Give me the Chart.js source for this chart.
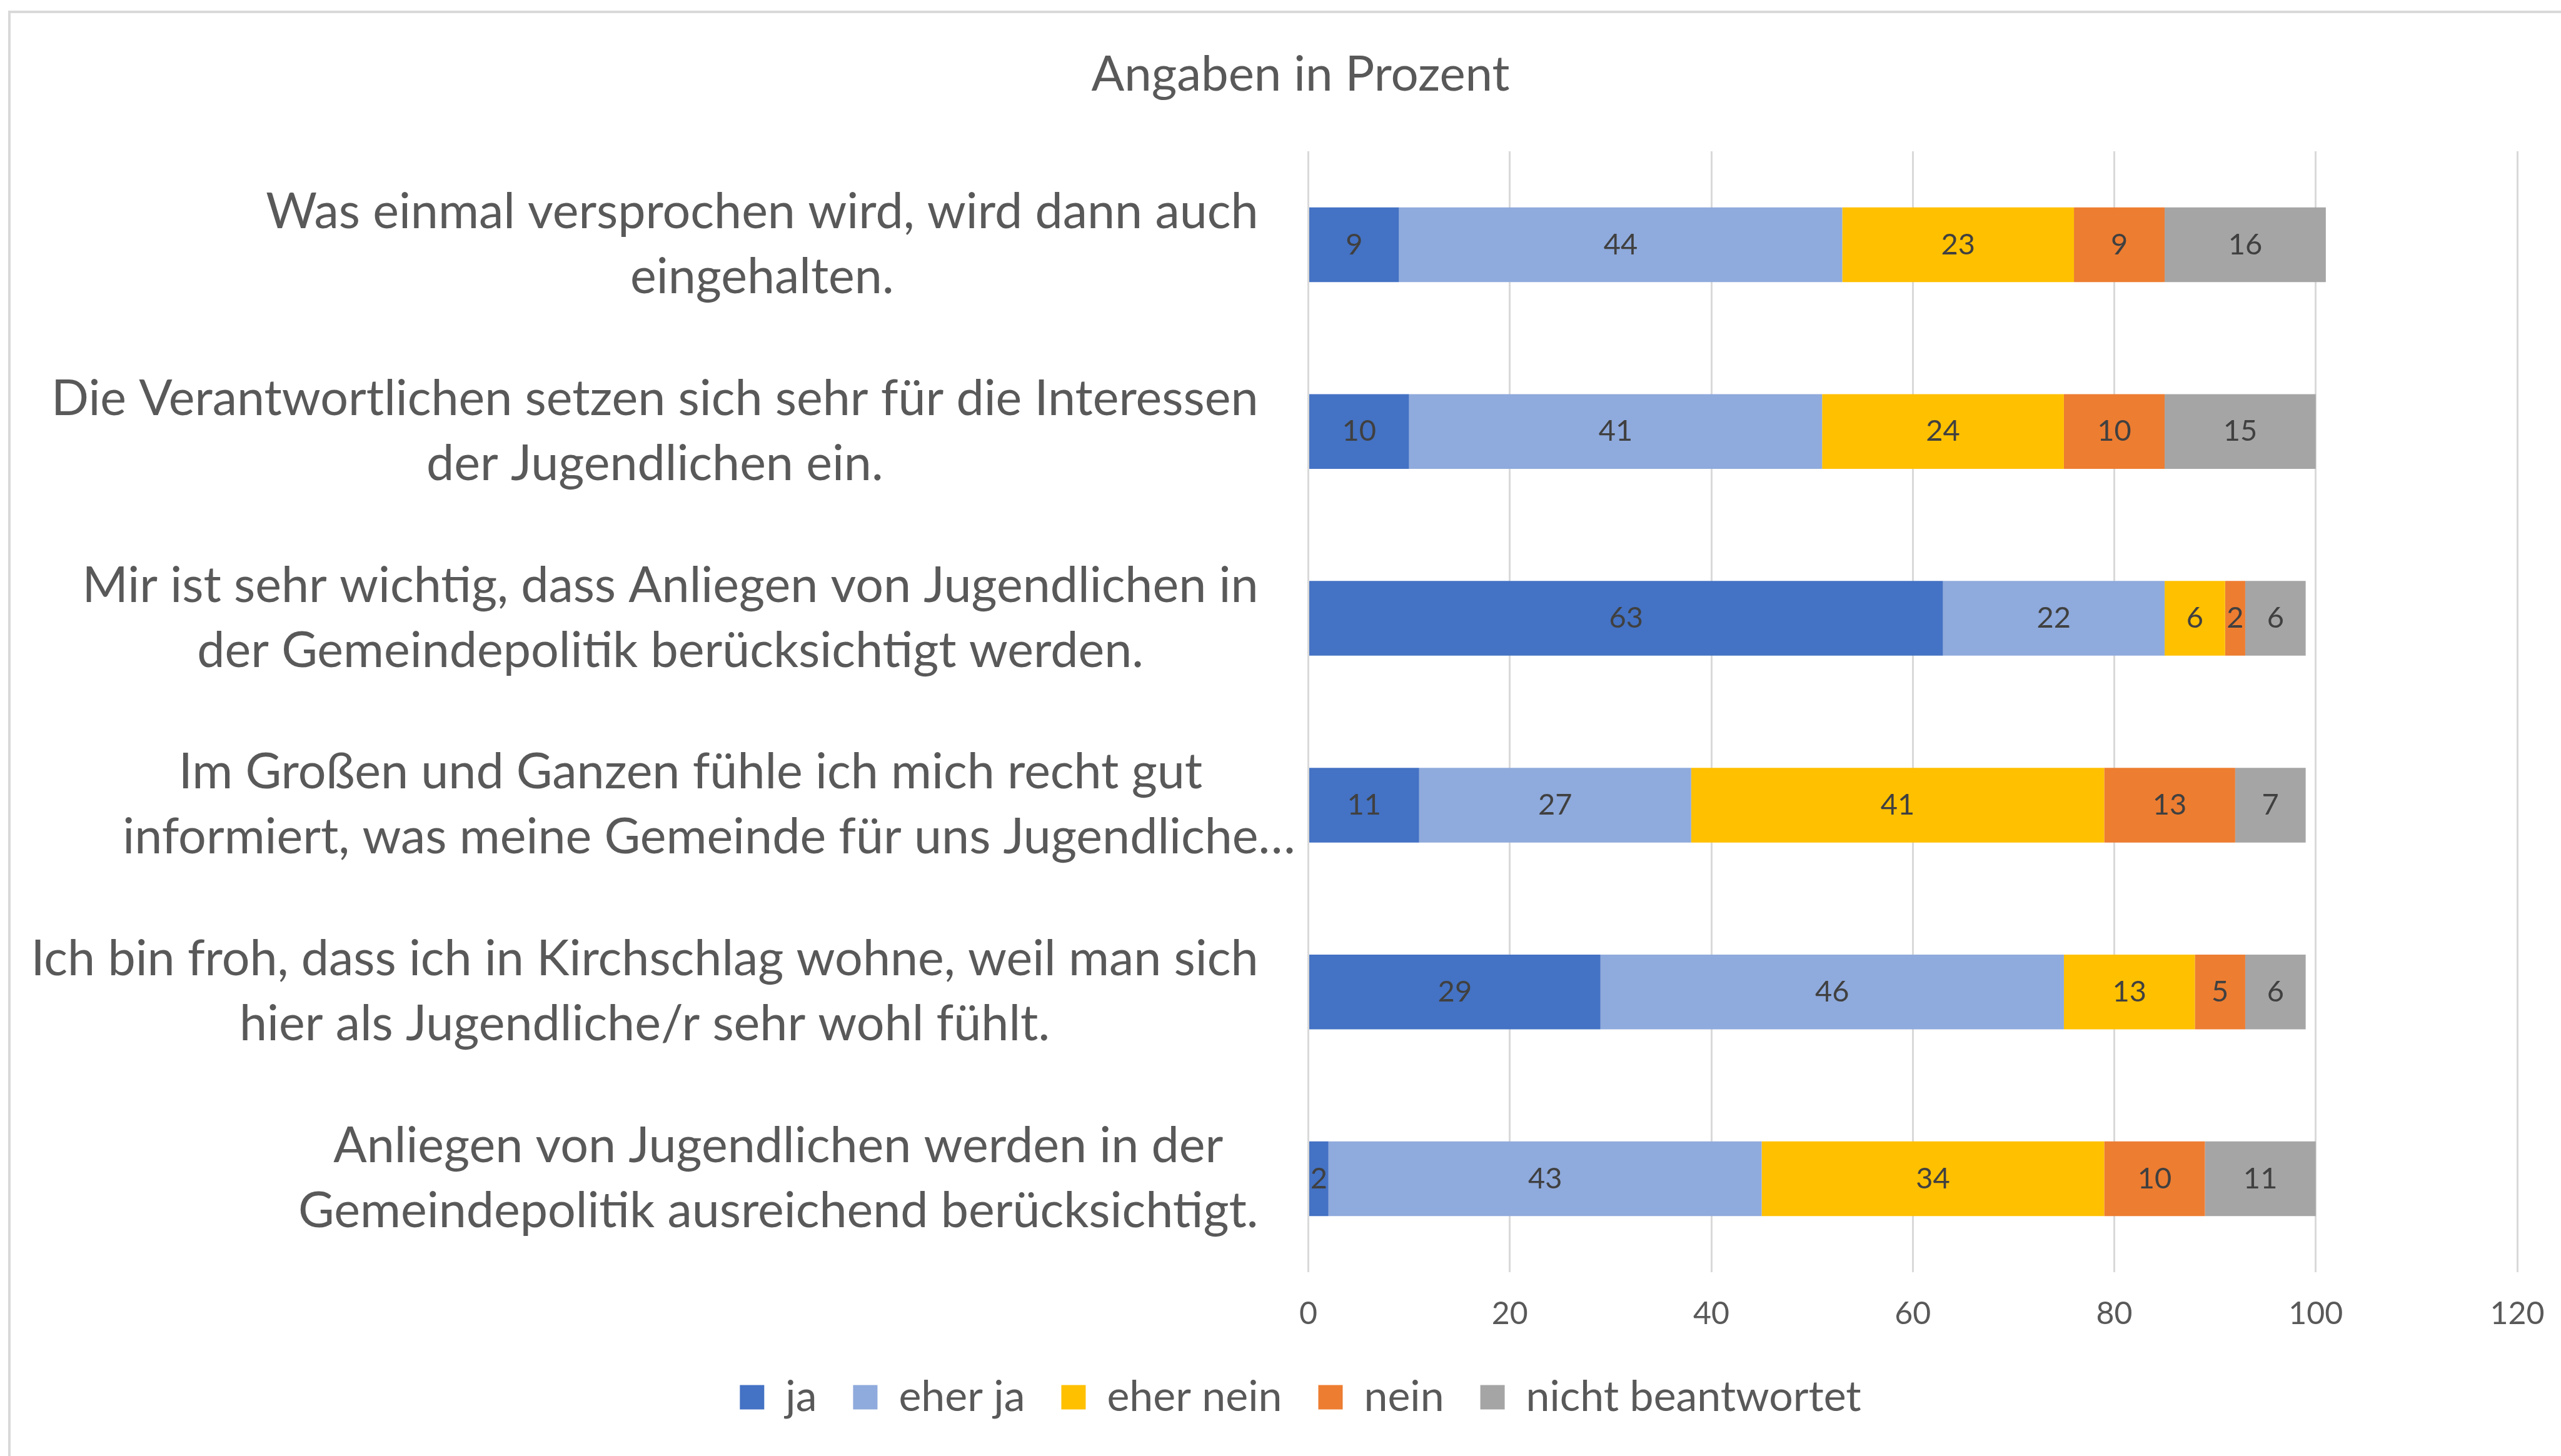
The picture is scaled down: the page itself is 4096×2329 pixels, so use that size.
<!DOCTYPE html>
<html><head><meta charset="utf-8">
<script src="https://cdn.jsdelivr.net/npm/chart.js@4.4.1/dist/chart.umd.min.js"></script>
<style>
html,body{margin:0;padding:0;background:#fff;overflow:hidden}
#wrap{position:relative;width:4096px;height:2329px}
canvas{display:block}
</style>
</head><body><div id="wrap"><canvas id="c" width="4096" height="2329"></canvas></div>
<script>
// ---- data ----
const categories = [
  ["Was einmal versprochen wird, wird dann auch", "eingehalten."],
  ["Die Verantwortlichen setzen sich sehr für die Interessen", "der Jugendlichen ein."],
  ["Mir ist sehr wichtig, dass Anliegen von Jugendlichen in", "der Gemeindepolitik berücksichtigt werden."],
  ["Im Großen und Ganzen fühle ich mich recht gut", "informiert, was meine Gemeinde für uns Jugendliche…"],
  ["Ich bin froh, dass ich in Kirchschlag wohne, weil man sich", "hier als Jugendliche/r sehr wohl fühlt."],
  ["Anliegen von Jugendlichen werden in der", "Gemeindepolitik ausreichend berücksichtigt."]
];
const seriesNames = ["ja", "eher ja", "eher nein", "nein", "nicht beantwortet"];
const ja = [9, 10, 63, 11, 29, 2];
const eherJa = [44, 41, 22, 27, 46, 43];
const eherNein = [23, 24, 6, 41, 13, 34];
const nein = [9, 10, 2, 13, 5, 10];
const nichtBeantwortet = [16, 15, 6, 7, 6, 11];
const xTickValues = [0, 20, 40, 60, 80, 100, 120];
const titleText = "Angaben in Prozent";

// ---- styles ----
const FONT = 'Lato';
const seriesColors = ['#4472C4', '#8FAADC', '#FFC000', '#ED7D31', '#A5A5A5'];
const TEXT = '#595959';
const GRID = '#d9d9d9';
const CAT_SIZE = 79, CAT_LINE = 104, CAT_GAP = 80;
const DATA_SIZE = 47;

const seriesValues = [ja, eherJa, eherNein, nein, nichtBeantwortet];

const frame = {
  id: 'frame',
  beforeDraw(chart) {
    const ctx = chart.ctx;
    ctx.save();
    ctx.fillStyle = '#ffffff';
    ctx.fillRect(0, 0, chart.width, chart.height);
    ctx.fillStyle = GRID;
    ctx.fillRect(13, 17, chart.width - 13, 4);
    ctx.fillRect(13, 17, 4, chart.height - 17);
    ctx.restore();
  }
};

const catLabels = {
  id: 'catLabels',
  afterDraw(chart) {
    const ctx = chart.ctx, ys = chart.scales.y;
    ctx.save();
    ctx.font = CAT_SIZE + 'px ' + FONT;
    ctx.fillStyle = TEXT;
    ctx.textBaseline = 'middle';
    ctx.textAlign = 'left';
    const right = chart.chartArea.left - CAT_GAP;
    categories.forEach((lines, i) => {
      const cy = ys.getPixelForValue(i);
      const core = lines.map(l => ctx.measureText(l.replace(/…$/, '')).width);
      const maxW = Math.max(...core);
      const cx = right - maxW / 2;
      lines.forEach((l, j) => {
        const ly = cy + (j - (lines.length - 1) / 2) * CAT_LINE;
        ctx.fillText(l, cx - core[j] / 2, ly);
      });
    });
    ctx.restore();
  }
};

const dataLabels = {
  id: 'dataLabels',
  afterDatasetsDraw(chart) {
    const ctx = chart.ctx;
    ctx.save();
    ctx.font = DATA_SIZE + 'px ' + FONT;
    ctx.fillStyle = '#404040';
    ctx.textAlign = 'center';
    ctx.textBaseline = 'middle';
    chart.data.datasets.forEach((ds, di) => {
      const meta = chart.getDatasetMeta(di);
      meta.data.forEach((bar, j) => {
        const p = bar.getProps(['x', 'y', 'base'], true);
        ctx.fillText(String(ds.data[j]), (p.x + p.base) / 2, p.y);
      });
    });
    ctx.restore();
  }
};

Chart.defaults.font.family = FONT;
Chart.defaults.color = TEXT;

new Chart(document.getElementById('c'), {
  type: 'bar',
  data: {
    labels: categories,
    datasets: seriesNames.map((n, i) => ({
      label: n,
      data: seriesValues[i],
      backgroundColor: seriesColors[i],
      borderWidth: 0,
      barPercentage: 0.4,
      categoryPercentage: 1.0
    }))
  },
  options: {
    indexAxis: 'y',
    responsive: false,
    animation: false,
    devicePixelRatio: 1,
    layout: { padding: { left: 134, right: 70, top: 0, bottom: 50 } },
    scales: {
      x: {
        stacked: true, min: 0, max: 120,
        afterBuildTicks: s => { s.ticks = xTickValues.map(v => ({ value: v })); },
        ticks: { font: { size: 50 }, color: TEXT, padding: 37, maxRotation: 0, autoSkip: false },
        grid: { color: GRID, lineWidth: 3, drawTicks: false },
        border: { display: false },
        afterFit: s => { s.height = 108; s.paddingLeft = 0; s.paddingRight = 0; }
      },
      y: {
        stacked: true,
        grid: { display: false },
        border: { display: false },
        ticks: { display: false },
        afterFit: s => { s.width = 1958.5; s.paddingTop = 0; s.paddingBottom = 0; }
      }
    },
    plugins: {
      title: { display: true, text: titleText, color: TEXT, font: { size: 78, weight: 'normal' }, padding: { top: 73.2, bottom: 75.2 } },
      legend: { position: 'bottom', labels: { font: { size: 68 }, color: TEXT, boxWidth: 39, boxHeight: 39, padding: 58 } },
      tooltip: { enabled: false }
    }
  },
  plugins: [frame, catLabels, dataLabels]
});
</script>
</body></html>
